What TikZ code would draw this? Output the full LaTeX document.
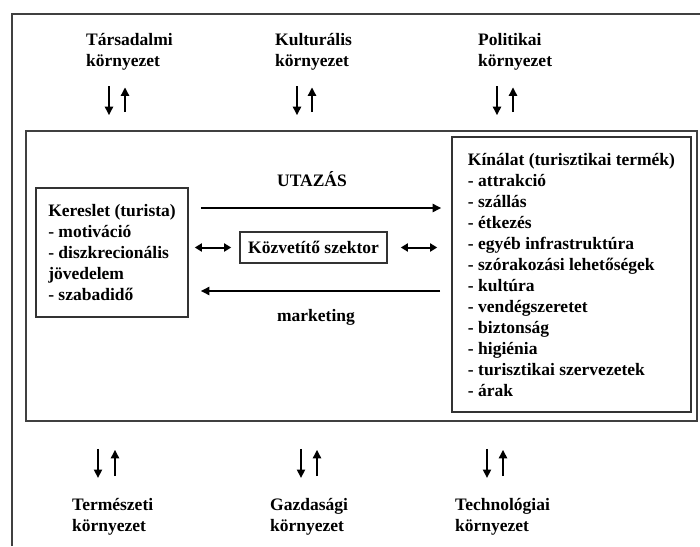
\documentclass[tikz,border=0pt]{standalone}
\usepackage{fontspec}
\setmainfont{Liberation Serif}
\usetikzlibrary{positioning, arrows.meta}

\begin{document}
\begin{tikzpicture}[x=1pt, y=-1pt,
  felirat/.style={font=\bfseries\fontsize{17.5}{21}\selectfont, align=left, inner sep=0pt},
  doboz/.style={felirat, draw=black!80, line width=1.6pt},
  keret/.style={draw=black!75, line width=1.6pt},
  nyil/.style={-{Triangle[length=8.5pt,width=8pt]}, line width=2.2pt},
  kettos/.style={{Triangle[length=7pt,width=8pt]}-{Triangle[length=7pt,width=8pt]}, line width=2pt}]
\useasboundingbox (0,0) rectangle (700,546);
% outer frame
\draw[keret] (12,546) |- (700,14);
% tourism system
\node[keret, minimum width=671pt, minimum height=290pt] (rendszer) at (361.5,276) {};
\node[doboz, minimum width=152pt, minimum height=129pt] (kereslet) at (112,252.5)
  {Kereslet (turista)\\- motiváció\\- diszkrecionális\\jövedelem\\- szabadidő};
\node[doboz, minimum width=239pt, minimum height=275pt] (kinalat) at (571.5,274.5)
  {Kínálat (turisztikai termék)\\- attrakció\\- szállás\\- étkezés\\- egyéb infrastruktúra\\- szórakozási lehetőségek\\- kultúra\\- vendégszeretet\\- biztonság\\- higiénia\\- turisztikai szervezetek\\- árak};
\node[doboz, minimum width=147pt, minimum height=31pt] (kozvetito) at (313.5,247.5) {Közvetítő szektor};
\node[felirat, anchor=base] (utazas) at (312,186) {UTAZÁS};
\node[felirat, anchor=base] (marketing) at (316,321) {marketing};
% flows
\path ([shift={(12,-44.5)}]kereslet.east) coordinate (utazas-a)
      ([shift={(12,38.5)}]kereslet.east) coordinate (marketing-a);
\draw[nyil, shorten >=10pt] (utazas-a) -- (utazas-a -| kinalat.west);
\draw[nyil, shorten <=11pt] (marketing-a -| kinalat.west) -- (marketing-a);
\draw[kettos, shorten <=6pt, shorten >=8pt] (kereslet.east |- kozvetito.west) -- (kozvetito.west);
\draw[kettos, shorten <=13pt, shorten >=14pt] (kozvetito.east) -- (kozvetito.east -| kinalat.west);
% environment
\node[felirat, anchor=north west] (tarsadalmi) at (86,33) {Társadalmi\\környezet};
\node[felirat, anchor=north west] (kulturalis) at (275,33) {Kulturális\\környezet};
\node[felirat, anchor=north west] (politikai) at (478,33) {Politikai\\környezet};
\node[felirat, anchor=north west] (termeszeti) at (72,498) {Természeti\\környezet};
\node[felirat, anchor=north west] (gazdasagi) at (270,498) {Gazdasági\\környezet};
\node[felirat, anchor=north west] (technologiai) at (455,498) {Technológiai\\környezet};
\foreach \nev/\le/\fel in {tarsadalmi/109/125, kulturalis/297/312, politikai/497/513} {
  \draw[nyil, shorten <=16pt, shorten >=15pt] (\le,0 |- \nev.south) -- (\le,0 |- rendszer.north);
  \draw[nyil, shorten <=18pt, shorten >=17pt] (\fel,0 |- rendszer.north) -- (\fel,0 |- \nev.south);
}
\foreach \nev/\le/\fel in {termeszeti/98/115, gazdasagi/301/317, technologiai/487/503} {
  \draw[nyil, shorten <=27pt, shorten >=20pt] (\le,0 |- rendszer.south) -- (\le,0 |- \nev.north);
  \draw[nyil, shorten <=22pt, shorten >=28pt] (\fel,0 |- \nev.north) -- (\fel,0 |- rendszer.south);
}
\end{tikzpicture}
\end{document}
